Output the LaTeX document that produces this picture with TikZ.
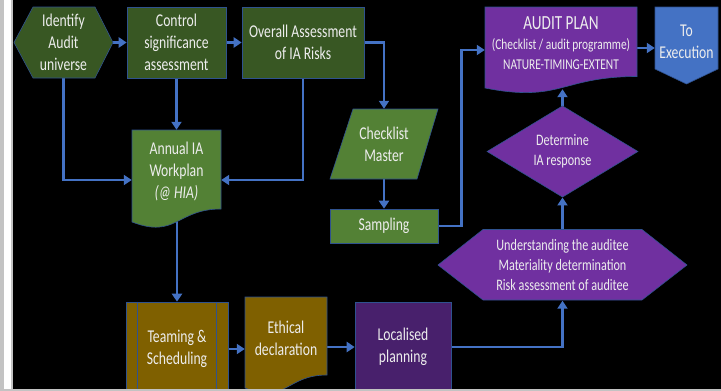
\documentclass[tikz,border=0pt]{standalone}
\usepackage{fontspec}
\setmainfont[FakeStretch=0.76]{Carlito}
\usetikzlibrary{arrows.meta,calc,shapes.geometric}

\definecolor{leafdark}{HTML}{385723}
\definecolor{leaf}{HTML}{538135}
\definecolor{plum}{HTML}{7030A0}
\definecolor{plumdark}{HTML}{48206C}
\definecolor{ochre}{HTML}{7F6000}
\definecolor{wire}{HTML}{4472C4}
\definecolor{rim}{HTML}{2F528F}
\definecolor{ink}{HTML}{EDEDED}
\definecolor{frame}{HTML}{C3C3C3}

\pgfdeclarelayer{back}
\pgfdeclarelayer{wires}
\pgfdeclarelayer{front}
\pgfsetlayers{back,wires,main,front}

\tikzset{
  big/.style={font=\fontsize{18}{22}\selectfont, text=ink, align=center},
  mid/.style={font=\fontsize{16}{20}\selectfont, text=ink, align=center},
  ghost/.style={inner sep=0pt},
  boxnode/.style={big, draw=rim, line width=0.6pt, inner sep=0pt},
  shapefill/.style={draw=rim, line width=0.6pt},
  wireline/.style={draw=wire, line width=2.6pt, -{Triangle[width=10pt,length=8pt]}}
}

\begin{document}
\begin{tikzpicture}[x=1pt,y=-1pt]
\begin{pgfonlayer}{back}
  \fill[frame] (0,0) rectangle (721,391);
  \fill[white] (4,0) rectangle (11,389);
  \fill[black] (12.5,0) rectangle (721,389);
\end{pgfonlayer}
\useasboundingbox (0,0) rectangle (721,391);

% top row
\path[fill=leafdark, shapefill] (14,42.5) -- (33,7) -- (95,7) -- (113,42.5) -- (95,78) -- (33,78) -- cycle;
\node[big, ghost, minimum width=99pt, minimum height=71pt] (idn) at (63.5,42.5) {Identify\\Audit\\universe};
\node[boxnode, fill=leafdark, minimum width=99pt, minimum height=71pt] (ctl) at (176.5,42.5) {Control\\significance\\assessment};
\node[boxnode, fill=leafdark, minimum width=122pt, minimum height=71pt] (ovr) at (303,42.5) {Overall Assessment\\of IA Risks};

% annual workplan (document)
\path[fill=leaf, shapefill] (132,130) -- (221,130) -- (221,209) .. controls (176.5,209) and (176.5,239) .. (132,222) -- cycle;
\node[big, ghost, minimum width=89pt, minimum height=82pt] (wp) at (176.5,171) {Annual IA\\Workplan\\\textit{(@ HIA)}};

% checklist master and sampling
\path[fill=leaf, shapefill] (353,109) -- (438,109) -- (417,179) -- (330,179) -- cycle;
\node[big, ghost, minimum width=88pt, minimum height=70pt] (cm) at (384,144) {Checklist\\Master};
\node[boxnode, fill=leaf, minimum width=108pt, minimum height=34pt] (sp) at (384,226) {Sampling};

% audit plan (document)
\path[fill=plum, shapefill] (485,7) -- (637,7) -- (637,76.5) .. controls (561,76.5) and (561,103) .. (485,88) -- cycle;
\node[ghost, text=ink, align=center, font=\fontsize{15}{20}\selectfont, minimum width=152pt, minimum height=92pt] (ap) at (561,43)
  {{\fontsize{20}{20}\selectfont AUDIT PLAN}\\(Checklist / audit programme)\\NATURE-TIMING-EXTENT};

% off-page connector
\path[fill=wire, shapefill] (655,7) -- (718,7) -- (718,69) -- (686.5,84) -- (655,69) -- cycle;
\node[big, ghost, minimum width=63pt, minimum height=70pt] (ex) at (686.5,42) {To\\Execution};

% decision and preparation
\node[diamond, mid, fill=plum, draw=rim, line width=0.6pt, inner sep=0pt, minimum width=151pt, minimum height=85pt] (dt) at (562.5,151.5) {Determine\\IA response};
\path[fill=plum, shapefill] (438,265) -- (483,229.5) -- (642,229.5) -- (687,265) -- (642,300) -- (483,300) -- cycle;
\node[mid, ghost, minimum width=249pt, minimum height=71pt] (hx) at (562.5,265) {Understanding the auditee\\Materiality determination\\Risk assessment of auditee};

% bottom row
\node[boxnode, fill=ochre, minimum width=102pt, minimum height=94pt] (tm) at (177,349) {Teaming \&\\Scheduling};
\draw[rim, line width=0.6pt] ($(tm.north west)+(12,0)$) -- ($(tm.south west)+(12,0)$);
\draw[rim, line width=0.6pt] ($(tm.north east)+(-12,0)$) -- ($(tm.south east)+(-12,0)$);
\path[fill=ochre, shapefill] (245,297) -- (327,297) -- (327,375) .. controls (286,375) and (286,404.7) .. (245,388) -- cycle;
\node[big, ghost, minimum width=82pt, minimum height=82pt] (et) at (286,338) {Ethical\\declaration};
\node[boxnode, fill=plumdark, minimum width=96pt, minimum height=90pt] (lp) at (403,347) {Localised\\planning};

% connectors
\begin{pgfonlayer}{wires}
  \draw[wireline] (idn.east) -- (ctl.west);
  \draw[wireline] (ctl.east) -- (ovr.west);
  \draw[wireline] (idn.south) |- ($(wp.west)+(0,9)$);
  \draw[wireline] (ctl.south) -- (ctl.south |- wp.north);
  \draw[wireline] (ovr.south) |- ($(wp.east)+(0,9)$);
  \draw[wireline] (ovr.east) -| (cm.north);
  \draw[wireline] (cm.south) -- (sp.north);
  \draw[wireline] (sp.east) -- ++(23,0) |- ($(ap.west)+(0,7)$);
  \draw[wireline] ($(ap.east)+(0,5)$) -- ($(ex.west)+(0,6)$);
  \draw[wireline] (dt.north) -- (dt.north |- ap.south);
  \draw[wireline] (hx.north) -- (dt.south);
  \draw[wireline] (tm.north |- wp.south) -- (tm.north);
  \draw[wireline] (tm.east) -- (tm.east -| et.west);
  \draw[wireline] (et.east |- lp.west) -- (lp.west);
  \draw[wireline] (lp.east) -| (hx.south);
\end{pgfonlayer}

\begin{pgfonlayer}{front}
  \fill[frame] (0,389) rectangle (721,391);
\end{pgfonlayer}
\end{tikzpicture}
\end{document}
